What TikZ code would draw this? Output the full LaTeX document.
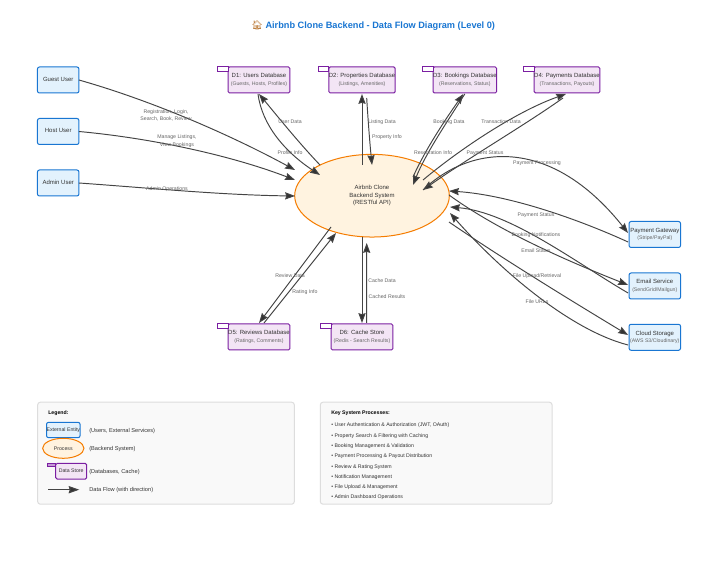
\documentclass[tikz,border=0pt]{standalone}
\usepackage{fontspec}
\setmainfont{Liberation Sans}
\newfontfamily\emojifont{Noto Emoji}
\usetikzlibrary{calc,arrows.meta,shapes.geometric}
\definecolor{entfill}{HTML}{E3F2FD}
\definecolor{entline}{HTML}{1976D2}
\definecolor{storefill}{HTML}{F3E5F5}
\definecolor{storeline}{HTML}{7B1FA2}
\definecolor{procfill}{HTML}{FFF3E0}
\definecolor{procline}{HTML}{F57C00}
\definecolor{flowcol}{HTML}{444444}
\definecolor{headcol}{HTML}{333333}
\definecolor{txtmain}{HTML}{333333}
\definecolor{txtsub}{HTML}{666666}
\definecolor{panelfill}{HTML}{F9F9F9}
\definecolor{panelline}{HTML}{DDDDDD}
\newcommand{\mainsz}{\fontsize{4.5}{5.3}\selectfont}
\newcommand{\subsz}{\fontsize{3.9}{5.3}\selectfont}
\newcommand{\boxlines}[3]{\raisebox{#1pt}{\fontsize{3.9}{5.6}\selectfont\begin{tabular}{@{}c@{}}\fontsize{4.5}{5.6}\selectfont\textcolor{txtmain}{#2}\\\fontsize{3.9}{5.6}\selectfont\textcolor{txtsub}{#3}\end{tabular}}}
\newcommand{\oneline}[1]{\raisebox{1.5pt}{\mainsz\textcolor{txtmain}{#1}}}
\tikzset{
  entity/.style={draw=entline,fill=entfill,line width=0.75pt,rounded corners=1.5pt,inner sep=0pt,outer sep=0pt,minimum width=31.1pt,minimum height=19.5pt},
  service/.style={entity,minimum width=38.6pt},
  store/.style={draw=storeline,fill=storefill,line width=0.75pt,rounded corners=1pt,inner sep=0pt,outer sep=0pt,minimum width=46.3pt,minimum height=19.5pt},
  tabmark/.style={draw=storeline,fill=white,line width=0.75pt},
  process/.style={draw=procline,fill=procfill,line width=0.75pt,ellipse,inner sep=0pt,outer sep=0pt},
  flow/.style={draw=flowcol,line width=0.72pt,-{Stealth[length=7.4pt,width=5.4pt,inset=0.8pt,fill=headcol]}},
  flowlabel/.style={font=\subsz,text=txtsub,inner sep=0pt,align=center},
  panel/.style={draw=panelline,fill=panelfill,line width=0.75pt,rounded corners=2pt},
  paneltext/.style={font=\subsz,text=txtmain,anchor=west,inner sep=0pt},
  legtext/.style={paneltext,font=\fontsize{4.25}{5.3}\selectfont},
  paneltitle/.style={font=\fontsize{3.9}{5}\selectfont\bfseries,text=black,anchor=west,inner sep=0pt}
}
\begin{document}
\begin{tikzpicture}[x=0.75pt,y=-0.75pt]
\useasboundingbox (0,0) rectangle (703,573);
\fill[white] (0,0) rectangle (703,573);

% title
\node[anchor=west,inner sep=0pt,font=\fontsize{6.9}{8}\selectfont\bfseries,text=entline] (title) at (251,26) {{\emojifont\textcolor{brown}{🏠}} Airbnb Clone Backend - Data Flow Diagram (Level 0)};

% external entities
\node[entity] (guest) at (58.2,80) {\oneline{Guest User}};
\node[entity] (host) at (58.2,131.5) {\oneline{Host User}};
\node[entity] (admin) at (58.2,183) {\oneline{Admin User}};
\node[service] (gateway) at (654.8,234.5) {\boxlines{-1.5}{Payment Gateway}{(Stripe/PayPal)}};
\node[service] (email) at (654.8,286) {\boxlines{-1.5}{Email Service}{(SendGrid/Mailgun)}};
\node[service] (cloud) at (654.8,337.3) {\boxlines{-1.5}{Cloud Storage}{(AWS S3/Cloudinary)}};

% data stores
\node[store] (d1) at (259,80) {\boxlines{0}{D1: Users Database}{(Guests, Hosts, Profiles)}};
\node[store] (d2) at (362,80) {\boxlines{0}{D2: Properties Database}{(Listings, Amenities)}};
\node[store] (d3) at (464.8,80) {\boxlines{0}{D3: Bookings Database}{(Reservations, Status)}};
\node[store] (d4) at (567,80) {\boxlines{0}{D4: Payments Database}{(Transactions, Payouts)}};
\node[store] (d5) at (259,337) {\boxlines{0}{D5: Reviews Database}{(Ratings, Comments)}};
\node[store] (d6) at (362,337) {\boxlines{0}{D6: Cache Store}{(Redis - Search Results)}};
\foreach \n in {d1,d2,d3,d4,d5,d6}
  \draw[tabmark] (\n.north west) rectangle ++(-10.5,4.5);

% process
\node[process,minimum width=116pt,minimum height=62pt] (sys) at (372,195.7) {\raisebox{-0.5pt}{\fontsize{4.5}{5.6}\selectfont\begin{tabular}{@{}c@{}}\textcolor{txtmain}{Airbnb Clone}\\\textcolor{txtmain}{Backend System}\\\textcolor{txtmain}{(RESTful API)}\end{tabular}}};

% flows: entities to system
\draw[flow] (guest.east) .. controls (160,103) and (240,140) .. ($(sys)+(-77,-25.7)$);
\draw[flow] (host.east) .. controls (150,138) and (230,155) .. ($(sys)+(-77,-15.7)$);
\draw[flow] (admin.east) .. controls (150,188) and (220,195) .. ($(sys)+(-77,0.3)$);

% D1
\draw[flow] ($(sys)+(-52,-30.7)$) .. controls (298,142) and (274,112) .. ($(d1.south)+(0,1)$);
\draw[flow] ($(d1.south)+(-1,1)$) .. controls (262,125) and (285,152) .. ($(sys)+(-52,-20.7)$);
% D2
\draw[flow] ($(sys)+(-10,-30.7)$) -- ($(d2.south)+(0,1)$);
\draw[flow] ($(d2.south)+(4.7,5)$) .. controls (368,120) and (370,145) .. ($(sys)+(0,-30.7)$);
% D3
\draw[flow] ($(sys)+(41,-18.7)$) .. controls (425,150) and (445,120) .. ($(d3.south)+(-1.5,1)$);
\draw[flow] ($(d3.south)+(0,1)$) .. controls (445,125) and (425,155) .. ($(sys)+(41,-10.7)$);
% D4
\draw[flow] ($(sys)+(51,-15.7)$) .. controls (465,145) and (520,110) .. ($(d4.south)+(-1,1)$);
\draw[flow] ($(d4.south)+(-4,5)$) .. controls (525,125) and (470,157) .. ($(sys)+(51,-5.7)$);
% payment gateway
\draw[flow] ($(sys)+(51,-5.7)$) .. controls (470,145) and (550,135) .. ($(gateway.west)+(-1,-1.5)$);
\draw[flow] ($(gateway.west)+(-1,7.5)$) .. controls (580,220) and (510,195) .. ($(sys)+(77,-4.7)$);
% email
\draw[flow] ($(sys)+(77,-0.7)$) .. controls (500,232) and (570,262) .. ($(email.west)+(-1,-1)$);
\draw[flow] ($(email.west)+(-1,7)$) .. controls (575,262) and (510,212) .. ($(sys)+(78,11.3)$);
% cloud
\draw[flow] ($(sys)+(77,26.3)$) .. controls (500,257) and (570,300) .. ($(cloud.west)+(-1,-2.3)$);
\draw[flow] ($(cloud.west)+(-1,7.7)$) .. controls (570,330) and (500,270) .. ($(sys)+(78,17.3)$);
% D5, D6
\draw[flow] ($(sys)+(-41,31.3)$) -- ($(d5.north)+(0,-1)$);
\draw[flow] ($(d5.north)+(5,-1)$) -- ($(sys)+(-36,37.3)$);
\draw[flow] ($(sys)+(-10,41.3)$) -- ($(d6.north)+(0,-1)$);
\draw[flow] ($(d6.north)+(4.7,-1)$) -- ($(sys)+(-5.3,47.3)$);

% flow labels
\node[flowlabel] (l1) at (166,115.5) {Registration, Login,\\[0.6pt]Search, Book, Review};
\node[flowlabel] (l2) at (177,141) {Manage Listings,\\[1.2pt]View Bookings};
\node[flowlabel] (l3) at (167,189) {Admin Operations};
\node[flowlabel] (l4) at (290,122) {User Data};
\node[flowlabel] (l5) at (290,153) {Profile Info};
\node[flowlabel] (l6) at (382,122) {Listing Data};
\node[flowlabel] (l7) at (387,137) {Property Info};
\node[flowlabel] (l8) at (449,122) {Booking Data};
\node[flowlabel] (l9) at (501,122) {Transaction Data};
\node[flowlabel] (l10) at (433,153) {Reservation Info};
\node[flowlabel] (l11) at (485,153) {Payment Status};
\node[flowlabel] (l12) at (537,163) {Payment Processing};
\node[flowlabel] (l13) at (536,215) {Payment Status};
\node[flowlabel] (l14) at (536,235) {Booking Notifications};
\node[flowlabel] (l15) at (536,251) {Email Status};
\node[flowlabel] (l16) at (537,276) {File Upload/Retrieval};
\node[flowlabel] (l17) at (537,302) {File URLs};
\node[flowlabel] (l18) at (290,276) {Review Data};
\node[flowlabel] (l19) at (305,292) {Rating Info};
\node[flowlabel] (l20) at (382,281) {Cache Data};
\node[flowlabel] (l21) at (387,297) {Cached Results};

% legend
\node[panel,minimum width=192.5pt,minimum height=76.5pt,inner sep=0pt,outer sep=0pt] (legend) at (166,453.2) {};
\node[paneltitle] (legtitle) at (48,413) {Legend:};
\node[entity,minimum width=23.4pt,minimum height=11.5pt] (legent) at (63.3,430) {\fontsize{3.9}{5}\selectfont\textcolor{txtmain}{External Entity}};
\node[process,minimum width=31pt,minimum height=15pt] (legproc) at (63.3,448.3) {\fontsize{3.9}{5}\selectfont\textcolor{txtmain}{Process}};
\node[store,minimum width=23.2pt,minimum height=11.7pt] (legstore) at (71.2,471.2) {\fontsize{3.9}{5}\selectfont\textcolor{txtmain}{Data Store}};
\draw[tabmark,fill=storeline!45] (legstore.north west) rectangle ++(-8.4,3.4);
\coordinate (flowa) at (48,489.7);
\coordinate (flowb) at (79.3,489.7);
\draw[draw=flowcol,line width=0.8pt,-{Stealth[length=8pt,width=5.5pt,inset=0.8pt,fill=headcol]}] (flowa) -- (flowb);
\node[legtext] (lt1) at (89,431) {(Users, External Services)};
\node[legtext] (lt2) at (89,449) {(Backend System)};
\node[legtext] (lt3) at (89,472) {(Databases, Cache)};
\node[legtext] (lt4) at (89,490) {Data Flow (with direction)};

% processes
\node[panel,minimum width=173.8pt,minimum height=76.5pt,inner sep=0pt,outer sep=0pt] (procs) at (436.2,453.2) {};
\node[paneltitle] (ptitle) at (331,413) {Key System Processes:};
\node[paneltext] (p1) at (331,425) {• User Authentication \& Authorization (JWT, OAuth)};
\node[paneltext] (p2) at (331,436) {• Property Search \& Filtering with Caching};
\node[paneltext] (p3) at (331,446) {• Booking Management \& Validation};
\node[paneltext] (p4) at (331,456) {• Payment Processing \& Payout Distribution};
\node[paneltext] (p5) at (331,467) {• Review \& Rating System};
\node[paneltext] (p6) at (331,477) {• Notification Management};
\node[paneltext] (p7) at (331,487) {• File Upload \& Management};
\node[paneltext] (p8) at (331,497) {• Admin Dashboard Operations};
\end{tikzpicture}
\end{document}
